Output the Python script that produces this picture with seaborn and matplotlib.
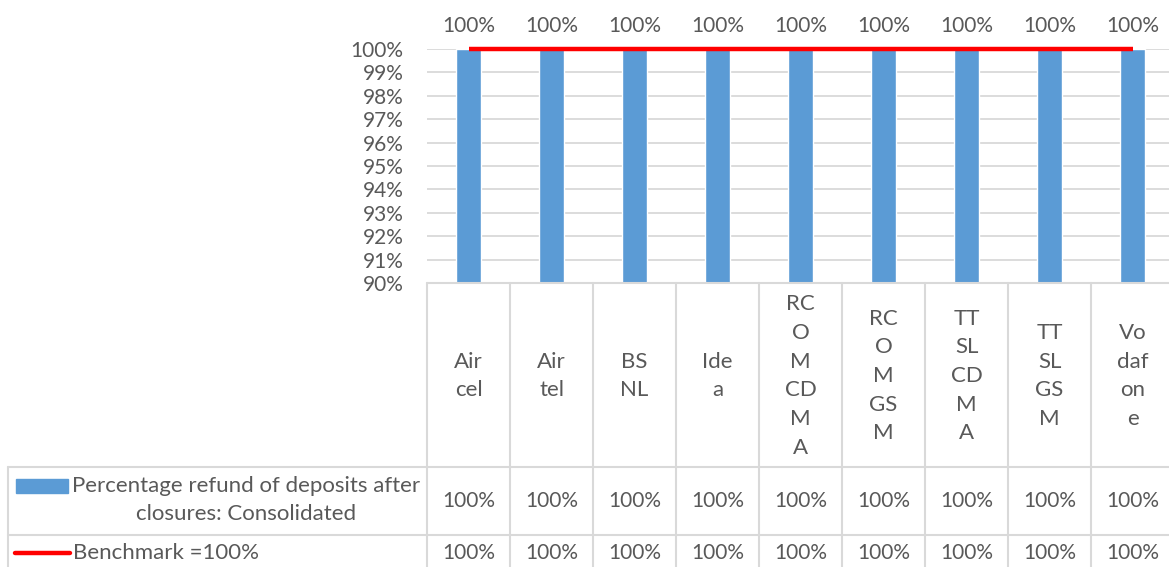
import matplotlib
matplotlib.use("Agg")
import matplotlib.pyplot as plt
import matplotlib.transforms as mtransforms
from matplotlib.lines import Line2D
from matplotlib.patches import Rectangle
from matplotlib.ticker import PercentFormatter, MultipleLocator
import numpy as np
import pandas as pd
import seaborn as sns

categories = ["Aircel", "Airtel", "BSNL", "Idea", "RCOM CDMA", "RCOM GSM",
              "TTSL CDMA", "TTSL GSM", "Vodafone"]
header_labels = ["Air\ncel", "Air\ntel", "BS\nNL", "Ide\na", "RC\nO\nM\nCD\nM\nA",
                 "RC\nO\nM\nGS\nM", "TT\nSL\nCD\nM\nA", "TT\nSL\nGS\nM", "Vo\ndaf\non\ne"]
refund = [1.00, 1.00, 1.00, 1.00, 1.00, 1.00, 1.00, 1.00, 1.00]
benchmark = [1.00, 1.00, 1.00, 1.00, 1.00, 1.00, 1.00, 1.00, 1.00]
series_names = ["Percentage refund of deposits after\nclosures: Consolidated",
                "Benchmark =100%"]

BLUE = "#5B9BD5"
RED = "#FF0000"
GREY_TXT = "#595959"
GRID = "#D9D9D9"

sns.set_theme(style="white")
plt.rcParams["font.family"] = ["Lato", "DejaVu Sans"]
FS = 15
FS_T = 16

W, H = 1169, 567
fig = plt.figure(figsize=(W / 100, H / 100), dpi=100)


def fx(px):
    return px / W


def fy(py):
    return 1 - py / H


# plot area
ax = fig.add_axes([fx(427), fy(283), fx(1174) - fx(427), fy(49) - fy(283)])

df = pd.DataFrame({"operator": categories, "refund": refund})
sns.barplot(data=df, x="operator", y="refund", color=BLUE, width=0.31,
            saturation=1, ax=ax)
ax.plot(np.arange(len(categories)), benchmark, color=RED, lw=3.2,
        solid_capstyle="butt", zorder=5, clip_on=False)

ax.set_ylim(0.90, 1.00)
ax.set_xlim(-0.5, len(categories) - 0.5)
ax.yaxis.set_major_locator(MultipleLocator(0.01))
ax.yaxis.set_major_formatter(PercentFormatter(1.0, decimals=0))
ax.yaxis.grid(True, color=GRID, lw=1.3)
ax.set_axisbelow(True)
ax.set_xlabel("")
ax.set_ylabel("")
ax.set_xticks([])
ax.tick_params(axis="y", length=0, pad=17, labelsize=FS, labelcolor=GREY_TXT)
for s in ax.spines.values():
    s.set_visible(False)

ax.bar_label(ax.containers[0], labels=[f"{v:.0%}" for v in refund],
             padding=9, fontsize=FS, color=GREY_TXT)

# data table below the plot
tb = mtransforms.blended_transform_factory(ax.transData, fig.transFigure)
n = len(categories)
line_kw = dict(color=GRID, lw=1.5)

fig.add_artist(Line2D([fx(427), 1], [fy(283), fy(283)], transform=fig.transFigure, **line_kw))
for yy in (467, 535):
    fig.add_artist(Line2D([fx(8), 1], [fy(yy), fy(yy)], transform=fig.transFigure, **line_kw))
fig.add_artist(Line2D([fx(8), fx(8)], [fy(467), 0], transform=fig.transFigure, **line_kw))
for i in range(n + 1):
    fig.add_artist(Line2D([i - 0.5, i - 0.5], [fy(283), 0], transform=tb, **line_kw))

for i, lab in enumerate(header_labels):
    fig.text(i, fy(376), lab, transform=tb, ha="center", va="center",
             ma="center", fontsize=FS_T, color=GREY_TXT, linespacing=1.54)
for i in range(n):
    fig.text(i, fy(501), f"{refund[i]:.0%}", transform=tb, ha="center",
             va="center", fontsize=FS, color=GREY_TXT)
    fig.text(i, fy(553), f"{benchmark[i]:.0%}", transform=tb, ha="center",
             va="center", fontsize=FS, color=GREY_TXT)

# legend keys in the table
fig.add_artist(Rectangle((fx(16), fy(493)), fx(68) - fx(16), fy(479) - fy(493),
                         transform=fig.transFigure, color=BLUE))
fig.text(fx(246), fy(500), series_names[0], ha="center", va="center",
         ma="center", fontsize=FS_T, color=GREY_TXT, linespacing=1.45)
fig.add_artist(Line2D([fx(15), fx(70)], [fy(553), fy(553)], transform=fig.transFigure,
                      color=RED, lw=3.2, solid_capstyle="round"))
fig.text(fx(73), fy(553), series_names[1], ha="left", va="center",
         fontsize=FS_T, color=GREY_TXT)

fig.savefig("out.png", dpi=100)
